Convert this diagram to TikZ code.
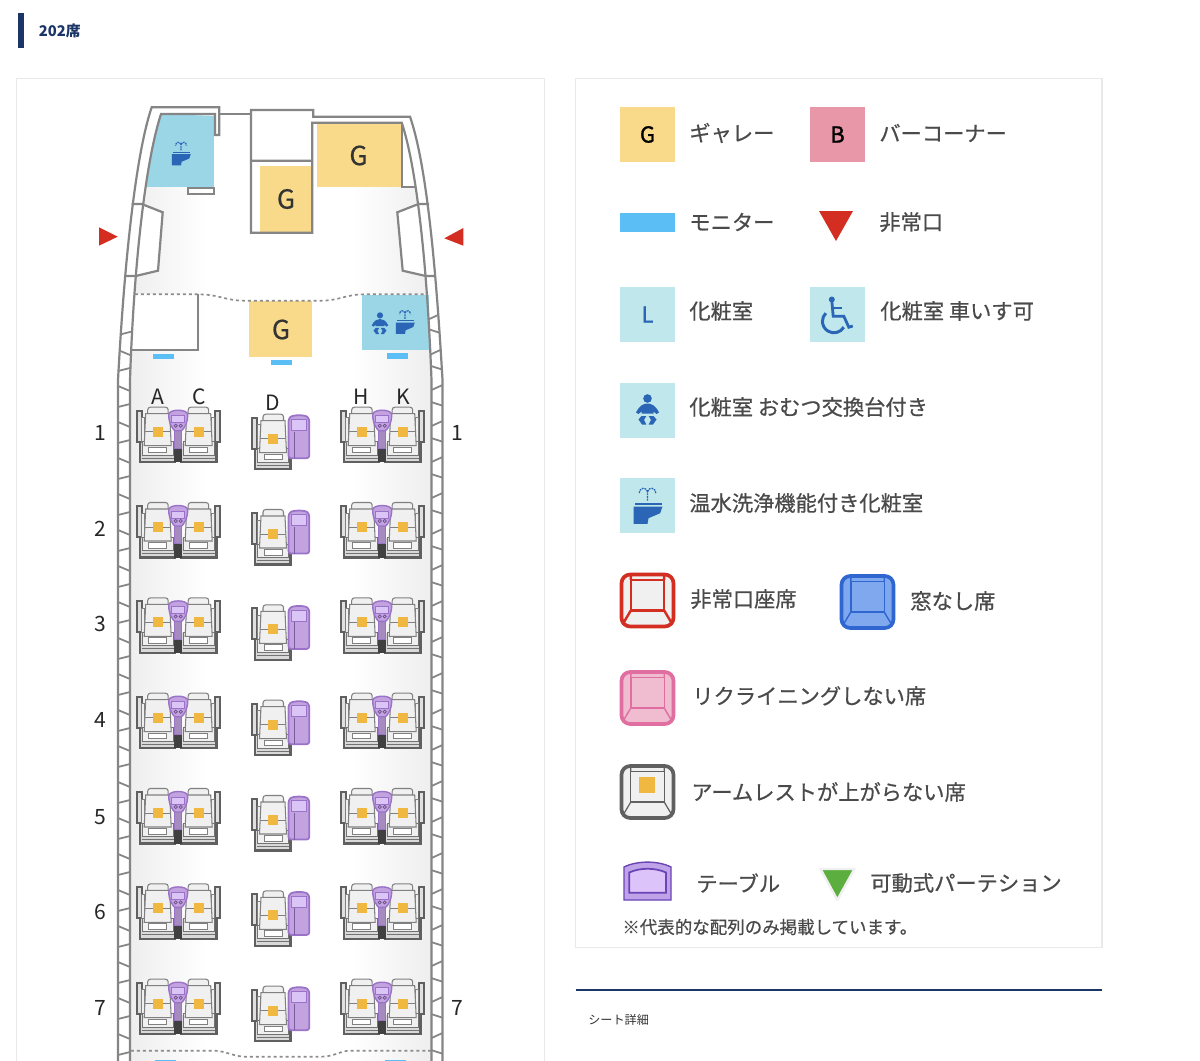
\documentclass[tikz,border=0pt]{standalone}
\usepackage{fontspec}
\newfontfamily\jpfont{Noto Sans CJK JP}
\newfontfamily\jpmid[FakeBold=0.6]{Noto Sans CJK JP}
\newfontfamily\jpheavy[FakeBold=1.4]{Noto Sans CJK JP}
\usetikzlibrary{positioning, calc, arrows.meta}
\definecolor{navyline}{HTML}{1B3566}
\definecolor{panelline}{HTML}{E9E9E9}
\definecolor{wallgray}{HTML}{858585}
\definecolor{floorgray}{HTML}{EDEDED}
\definecolor{galleyyellow}{HTML}{F8DA8A}
\definecolor{bartile}{HTML}{E797A7}
\definecolor{lavblue}{HTML}{9AD6E6}
\definecolor{lavtile}{HTML}{BFE7EC}
\definecolor{iconblue}{HTML}{2A66B5}
\definecolor{monitorblue}{HTML}{5BBFF5}
\definecolor{exitred}{HTML}{D42E22}
\definecolor{seatline}{HTML}{606060}
\definecolor{seatfill}{HTML}{F0F0F0}
\definecolor{seatmark}{HTML}{F0B840}
\definecolor{tablefill}{HTML}{C2A3DF}
\definecolor{tablelight}{HTML}{DBC4F6}
\definecolor{tableline}{HTML}{9A72C8}
\definecolor{keyviolet}{HTML}{6B45B5}
\definecolor{keyband}{HTML}{BFA3E8}
\definecolor{keyinner}{HTML}{DCC4FA}
\definecolor{textgray}{HTML}{4A4A4A}
\definecolor{nowinline}{HTML}{2F66D0}
\definecolor{nowinfill}{HTML}{7FA8EE}
\definecolor{reclineline}{HTML}{E06EA0}
\definecolor{reclinefill}{HTML}{EFBCD0}
\definecolor{partgreen}{HTML}{5CAE3F}
\tikzset{
    wall/.style={draw=wallgray,line width=1.25pt},
    rib/.style={draw=wallgray,line width=1pt},
    partline/.style={draw=black!45,line width=.95pt,dash pattern=on 1.7pt off 1.7pt},
    glabel/.style={font=\jpmid\fontsize{15}{17}\selectfont,text=black!80,inner sep=0pt},
    rownum/.style={font=\jpfont\fontsize{12}{14}\selectfont,text=black!85,inner sep=0pt},
    keytile/.style={minimum size=31.3pt,inner sep=0pt,font=\jpheavy\fontsize{12.5}{14}\selectfont},
    keytext/.style={anchor=west,inner sep=0pt,font=\jpmid\fontsize{12.1}{14}\selectfont,text=textgray},
    pics/seatunit/.style={code={
        \draw[seatline,line width=1.1pt,fill=black!12] (-21,-21) rectangle (-16,10);
        \draw[black!50,line width=.5pt,fill=seatfill] (-16,-14) -- (-13,-14) -- (-13,12) -- (-16,12) -- cycle;
        \draw[seatline,line width=1.3pt,fill=black!15] (-17.7,11) -- (-17.7,30.5) -- (17.5,30.5) -- (17.5,11);
        \draw[black!55,line width=.5pt] (-16,26.5) -- (16,26.5);
        \draw[black!55,line width=.5pt,fill=seatfill] (-15.5,10) -- (-15.5,23.5) -- (15.5,23.5) -- (15.5,10) -- cycle;
        \draw[black!50,line width=.6pt,fill=seatfill,rounded corners=1.5pt] (-10,-18) -- (-10,-24.5) -- (10.5,-24.5) -- (10.5,-18);
        \draw[black!50,line width=.6pt,fill=seatfill] (-12,-18) -- (12,-18) -- (13.5,14) -- (-13.5,14) -- cycle;
        \draw[black!50,line width=.5pt] (-13,0) -- (-5,0) (5,0) -- (13,0);
        \draw[black!50,line width=.5pt,fill=white] (-9,15.5) rectangle (9,21);
        \fill[seatmark] (-5,-5) rectangle (5,5);
    }},
    pics/seatpair/.style={code={
        \pic at (-20.5,0) {seatunit};
        \pic[xscale=-1] at (20.5,0) {seatunit};
        \fill[black!75] (-3.8,16.7) rectangle (3.8,30.5);
        \draw[tableline,line width=.5pt,fill=tablefill!85!black] (-3.3,-2) rectangle (3.3,16.7);
        \draw[tableline,line width=.8pt,fill=tablefill] (-9.5,-17) .. controls (-9.5,-23) and (9.5,-23) .. (9.5,-17) .. controls (9.5,-8) and (5,-2) .. (3.3,-1) -- (-3.3,-1) .. controls (-5,-2) and (-9.5,-8) .. (-9.5,-17) -- cycle;
        \draw[tableline,line width=.4pt,fill=tablelight] (-6.5,-16) rectangle (6.5,-9);
        \draw[tableline!70!black,line width=.4pt] (-2.5,-6) circle (1.6) (2.5,-6) circle (1.6);
    }},
    pics/seatside/.style={code={
        \pic at (0,0) {seatunit};
        \draw[tableline,line width=1pt,fill=tablefill,rounded corners=1.5pt] (15.5,-20) .. controls (20,-24) and (32,-24) .. (36.3,-20) -- (36.3,19.5) -- (15.5,19.5) -- cycle;
        \draw[tableline,line width=.4pt,fill=tablelight] (18,-19.5) rectangle (33.5,-8.5);
        \draw[tableline!80!black,line width=.4pt] (21,-7) -- (21,19.5);
    }},
    pics/toiletmark/.style={code={
        \fill[iconblue] (-12.3,-3) rectangle (14.3,-1);
        \fill[iconblue] (-14,1) -- (15,1) -- (12.7,7.7) -- (1,12.7) -- (0,18.3) -- (-14,18.3) -- cycle;
        \draw[iconblue,line width=.75pt,dash pattern=on 1pt off .5pt] (0,-5) -- (0,-15) (0,-14) .. controls (-2,-19) and (-8,-18) .. (-8.5,-12) (0,-14) .. controls (2,-19) and (8,-18) .. (8.5,-12);
    }},
    pics/babymark/.style={code={
        \fill[iconblue] (0,-12) circle (4.3);
        \fill[iconblue] (-11.5,2) .. controls (-8,-5) and (-4,-7) .. (0,-7) .. controls (4,-7) and (8,-5) .. (11.5,2) -- (9,3.5) -- (6,1) -- (6,3) -- (-6,3) -- (-6,1) -- (-9,3.5) -- cycle;
        \fill[iconblue] (-1.2,5.5) -- (-6,5.5) -- (-9,9) -- (-5.5,14) -- (-1.2,14) -- (-3.5,9.5) -- cycle;
        \fill[iconblue] (1.2,5.5) -- (6,5.5) -- (9,9) -- (5.5,14) -- (1.2,14) -- (3.5,9.5) -- cycle;
    }},
    pics/chairmark/.style={code={
        \fill[iconblue] (-5.7,-15) circle (3);
        \draw[iconblue,line width=1.6pt] (-5.7,-14) -- (-4.3,1.7) -- (6.3,1.7) -- (11.3,12.7) -- (15.3,11.5);
        \draw[iconblue,line width=1.4pt] (-5,-6.7) -- (4.3,-6.7);
        \draw[iconblue,line width=1.7pt] (6.3,12.7) arc (31:225:11.5);
    }},
    pics/keyseat/.style n args={3}{code={
        \draw[#1,line width=2.1pt,fill=#2,rounded corners=5pt] (-26,-26) rectangle (26,26);
        \draw[#1,line width=#3] (-16.7,-20.7) rectangle (16.7,10);
        \draw[#1,line width=#3] (-16.7,10) -- (-25,24) (16.7,10) -- (25,24) (-16.7,-20.7) -- (-16.7,-25) (16.7,-20.7) -- (16.7,-25);
    }}
}
\begin{document}
\begin{tikzpicture}[x=0.02cm,y=-0.02cm]
    \useasboundingbox (0,0) rectangle (1200,1061);
    \clip (0,0) rectangle (1200,1061);
    \fill[white] (0,0) rectangle (1200,1061);
    \fill[navyline] (18,13) rectangle (24,48);
    \node[anchor=west,inner sep=0pt,font=\jpfont\bfseries\fontsize{8.4}{10}\selectfont,text=navyline] (headline) at (38.5,31) {202席};
    \draw[panelline,line width=.6pt] (16.5,1062) -- (16.5,78.5) -- (544.5,78.5) -- (544.5,1062);
    \draw[panelline,line width=.6pt] (575.5,78.5) rectangle (1102,947.5);
    \draw[navyline,line width=1.1pt] (575.5,990) -- (1102,990);
    \node[anchor=west,inner sep=0pt,font=\jpfont\fontsize{6.9}{8}\selectfont,text=black!80] (seatdetail) at (588,1020) {シート詳細};

    \begin{scope}
        \clip (161,114) .. controls (146,160) and (134,260) .. (130,380) -- (130,1062) -- (431.5,1062) -- (431.5,380) .. controls (427,260) and (416,165) .. (401.7,122.7) -- cycle;
        \shade[left color=floorgray,right color=white] (125,187) rectangle (208,1062);
        \shade[left color=white,right color=floorgray] (352,187) rectangle (435,1062);
        \fill[lavblue] (130,114) rectangle (214.3,187);
    \end{scope}
    \fill[galleyyellow] (316.7,123.3) rectangle (401.7,187);
    \fill[galleyyellow] (260,166) rectangle (311.7,232);
    \fill[galleyyellow] (249.3,301) rectangle (312.3,356.7);
    \fill[lavblue] (361.7,295) rectangle (429.3,349.7);
    \fill[white] (132,294.3) rectangle (198.3,350.3);

    \draw[wall,fill=white] (131.7,204) -- (141.7,204) -- (162.7,212.3) -- (158,270.7) -- (135.7,276) -- (125.7,276);
    \draw[wall,fill=white] (429,204) -- (418.5,204) -- (397.3,212.3) -- (402.7,270.7) -- (425.7,276) -- (435.7,276);
    \draw[wall] (118,1062) -- (118,380) .. controls (125,250) and (137,150) .. (151.7,107.3) -- (219.3,107.3) -- (219.3,135) -- (215,135) -- (215,114) -- (161,114) .. controls (146,160) and (134,260) .. (130,380) -- (130,1062);
    \draw[wall] (219.3,114) -- (251,114);
    \draw[wall] (251,160.7) -- (251,110) -- (313.3,110) -- (313.3,116.7) -- (410,116.7) .. controls (425,160) and (435,250) .. (442.5,380) -- (442.5,1062);
    \draw[wall] (431.5,1062) -- (431.5,380) .. controls (427,260) and (416,165) .. (401.7,122.7) -- (312.3,122.7) -- (312.3,232.7) -- (251,232.7) -- (251,160.7) -- (312.3,160.7);
    \draw[wall] (401.7,122.7) -- (401.7,187) -- (416,187);
    \draw[wall] (188.3,188.3) rectangle (213.7,193.7);
    \draw[wall] (198.3,294.3) -- (198.3,350.3) -- (131,350.3);

    \begin{scope}
        \clip (118,1062) -- (118,380) .. controls (125,250) and (137,150) .. (151.7,107.3) -- (161,114) .. controls (146,160) and (134,260) .. (130,380) -- (130,1062) -- cycle;
        \foreach \y in {313,349,...,1061} {
            \draw[rib] (112,\y+23.5) -- (136,\y+17.5) (112,\y+34.5) -- (136,\y+44.5);
        }
    \end{scope}
    \begin{scope}
        \clip (442.5,1062) -- (442.5,380) .. controls (435,250) and (425,160) .. (410,116.7) -- (401.7,122.7) .. controls (416,165) and (427,260) .. (431.5,380) -- (431.5,1062) -- cycle;
        \foreach \y in {313,349,...,1061} {
            \draw[rib] (448,\y-2.5) -- (425,\y+8) (448,\y+22.5) -- (425,\y+15);
        }
    \end{scope}

    \draw[partline] (135,294.3) -- (198,294.3) .. controls (220,294.5) and (225,300.7) .. (245,300.7) -- (320,300.7) .. controls (340,300.7) and (345,294.3) .. (365,294.3) -- (427,294.3);
    \draw[partline] (131,1050.7) -- (215,1050.7) .. controls (225,1051) and (235,1056.7) .. (245,1056.7) -- (320,1056.7) .. controls (335,1056.7) and (340,1050.7) .. (350,1050.7) -- (432,1050.7);

    \fill[monitorblue] (152.7,354) rectangle (173.7,359.3);
    \fill[monitorblue] (270.7,359.7) rectangle (291.7,365);
    \fill[monitorblue] (386.7,353.3) rectangle (407.7,358.7);
    \fill[monitorblue] (155,1059.8) rectangle (176,1062);
    \fill[monitorblue] (385,1059.8) rectangle (406,1062);

    \fill[exitred] (99,227.3) -- (117.7,236.7) -- (99,245.7) -- cycle;
    \fill[exitred] (463.3,228) -- (444.3,238.3) -- (463.3,245.7) -- cycle;

    \node[glabel] (galleyA) at (358.5,155.5) {G};
    \node[glabel] (galleyB) at (286,199) {G};
    \node[glabel] (galleyC) at (281,329.5) {G};
    \pic[scale=.65] at (181,153.5) {toiletmark};
    \pic[scale=.65] at (405,322) {toiletmark};
    \pic[scale=.72] at (380,324) {babymark};

    \foreach \r/\rowy/\numy in {1/431.7/433,2/527/529,3/622.4/624,4/717.7/720,5/813/817,6/908.4/912,7/1003.7/1008} {
        \pic at (178.2,\rowy) {seatpair};
        \pic at (382.2,\rowy) {seatpair};
        \pic at (273,\rowy+7) {seatside};
        \node[rownum] (rowlabel\r) at (100,\numy) {\r};
    }
    \node[rownum] (rightone) at (457,433) {1};
    \node[rownum] (rightseven) at (457,1008) {7};
    \node[rownum] (colA) at (158,397) {A};
    \node[rownum] (colC) at (199.5,397) {C};
    \node[rownum] (colD) at (273,403) {D};
    \node[rownum] (colH) at (361,397) {H};
    \node[rownum] (colK) at (403,397) {K};

    \node[keytile,fill=galleyyellow] (keyG) at (647.5,134.5) {G};
    \node[keytext] (textG) at (689,133) {ギャレー};
    \node[keytile,fill=bartile] (keyB) at (837.5,134.5) {B};
    \node[keytext] (textB) at (879,133) {バーコーナー};
    \fill[monitorblue] (620,213) rectangle (675,232);
    \node[keytext] (textmonitor) at (689,222) {モニター};
    \fill[exitred] (819,211) -- (853,211) -- (836,241) -- cycle;
    \node[keytext] (textexit) at (879,222) {非常口};
    \node[keytile,fill=lavtile,text=iconblue] (keyL) at (647.5,314.5) {L};
    \node[keytext] (textL) at (689,311) {化粧室};
    \node[keytile,fill=lavtile] (keychair) at (837.5,314.5) {};
    \pic at (837.5,314.5) {chairmark};
    \node[keytext] (textchair) at (880,311) {化粧室 車いす可};
    \node[keytile,fill=lavtile] (keybaby) at (647.5,410.5) {};
    \pic at (647.5,410.5) {babymark};
    \node[keytext] (textbaby) at (689,407) {化粧室 おむつ交換台付き};
    \node[keytile,fill=lavtile] (keytoilet) at (647.5,505.5) {};
    \pic at (647.5,505.5) {toiletmark};
    \node[keytext] (texttoilet) at (689,503) {温水洗浄機能付き化粧室};

    \pic at (647.5,600.5) {keyseat={exitred}{seatfill}{1.4pt}};
    \node[keytext] (textexitseat) at (690,599) {非常口座席};
    \pic at (867.5,602) {keyseat={nowinline}{nowinfill}{.8pt}};
    \node[keytext] (textnowindow) at (910,601) {窓なし席};
    \pic at (647.5,698) {keyseat={reclineline}{reclinefill}{.8pt}};
    \node[keytext] (textnorecline) at (692,696) {リクライニングしない席};
    \pic at (647.5,792) {keyseat={seatline}{seatfill}{.7pt}};
    \fill[seatmark] (639.3,777.3) rectangle (655.3,792.7);
    \node[keytext] (textarmrest) at (691,792) {アームレストが上がらない席};
    \draw[keyviolet,line width=.8pt,fill=keyband] (624,900) -- (624,867) .. controls (637,860.5) and (658,860.5) .. (671,867) -- (671,900) -- cycle;
    \draw[keyviolet,line width=1pt,fill=keyinner] (629.3,892.7) -- (629.3,872.5) .. controls (640,867.5) and (655,867.5) .. (666,872.5) -- (666,892.7) -- cycle;
    \node[keytext] (texttable) at (696,883) {テーブル};
    \draw[black!6,line width=1.4pt,fill=partgreen,line join=round] (820.5,869) -- (854.5,869) -- (837.3,900) -- cycle;
    \node[keytext] (textpartition) at (870,883) {可動式パーテション};
    \node[keytext,font=\jpmid\fontsize{9.95}{11}\selectfont] (textnote) at (622,927) {※代表的な配列のみ掲載しています。};
\end{tikzpicture}
\end{document}
